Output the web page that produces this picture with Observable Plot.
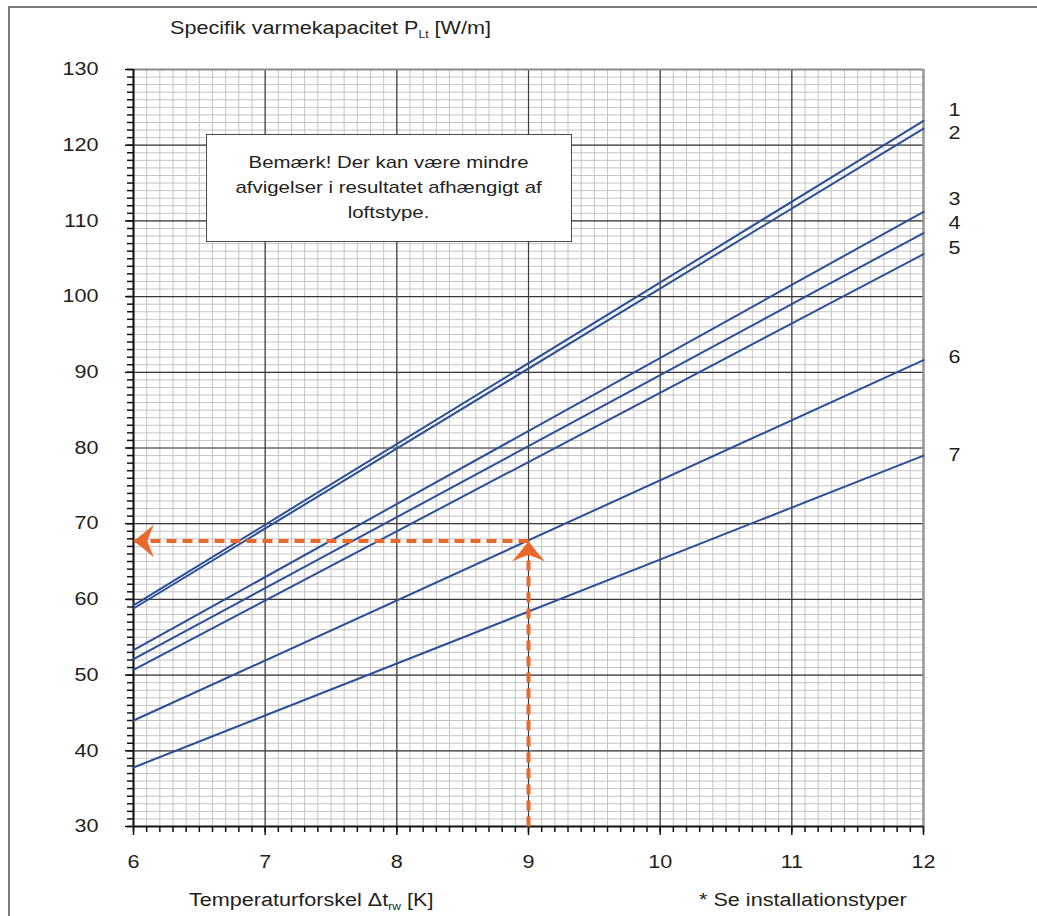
<!DOCTYPE html>
<html><head><meta charset="utf-8">
<script src="https://cdn.jsdelivr.net/npm/d3@7"></script>
<script src="https://cdn.jsdelivr.net/npm/@observablehq/plot@0.6"></script>
<style>
body{margin:0;background:#fff;font-family:"Liberation Sans",Arial,sans-serif;color:#231f20}
#wrap{position:relative;width:1037px;height:916px;overflow:hidden}
#wrap svg{position:absolute;left:0;top:0}
#frame{position:absolute;left:8px;top:6px;width:1100px;height:1000px;border-left:2px solid #7a7a7a;border-top:2px solid #7a7a7a}
.t{position:absolute;white-space:nowrap;font-size:18px;line-height:18px;transform:scaleX(1.2);transform-origin:0 0}
.t sub{font-size:10px;vertical-align:-4px;line-height:0}
#note{position:absolute;left:206px;top:134px;width:364px;height:106px;border:1px solid #4a4a4a;background:#fff;text-align:center}
#note div{padding-top:15px;font-size:17px;line-height:25px;display:inline-block;transform:scaleX(1.2);transform-origin:50% 0;white-space:nowrap}
</style></head>
<body>
<div id="wrap">
  <div id="frame"></div>
</div>
<script>
// ---- data ----
const seriesNames = ["1","2","3","4","5","6","7"];
const xEnds = [6, 12];
const valuesAt6  = [59.2, 58.8, 53.3, 52.1, 50.7, 44.0, 37.8];
const valuesAt12 = [123.2, 122.2, 111.2, 108.4, 105.6, 91.6, 79.0];
const xTickLabels = [6, 7, 8, 9, 10, 11, 12];
const yTickLabels = [30, 40, 50, 60, 70, 80, 90, 100, 110, 120, 130];
const readX = 9;      // example reading
const readY = 67.7;

// ---- derived tables ----
const lines = seriesNames.flatMap((s, i) => [
  {series: s, x: xEnds[0], y: valuesAt6[i]},
  {series: s, x: xEnds[1], y: valuesAt12[i]}
]);
const xMinor = d3.range(60, 121).map(d => d / 10);
const yMinor = d3.range(30, 131);
const labelDy = [-11, 5, -13, -10, -6, -3, 0];

// concave arrowhead, tip at the origin, pointing up
const arrowHead = {
  draw(ctx) {
    ctx.moveTo(0, 0);
    ctx.bezierCurveTo(-5, 7, -11, 14, -16.5, 20.5);
    ctx.quadraticCurveTo(-8, 16.5, 0, 14);
    ctx.quadraticCurveTo(8, 16.5, 16.5, 20.5);
    ctx.bezierCurveTo(11, 14, 5, 7, 0, 0);
    ctx.closePath();
  }
};

const blue = "#2c4f97";
const orange = "#e9692c";

const plot = Plot.plot({
  width: 1037, height: 916,
  marginLeft: 133, marginRight: 114, marginTop: 69, marginBottom: 90,
  x: {domain: [6, 12], label: null},
  y: {domain: [30, 130], label: null},
  style: {fontFamily: "'Liberation Sans', Arial, sans-serif", fontSize: "18px", color: "#231f20", background: "transparent", overflow: "visible"},
  marks: [
    Plot.ruleX(xMinor, {stroke: "#c4c4c4", strokeWidth: 1}),
    Plot.ruleY(yMinor, {stroke: "#c4c4c4", strokeWidth: 1}),
    Plot.ruleX(xTickLabels, {stroke: "#3a3a3a", strokeWidth: 1.2}),
    Plot.ruleY(yTickLabels, {stroke: "#3a3a3a", strokeWidth: 1.2}),
    Plot.ruleY([130], {stroke: "#8a8a8a", strokeWidth: 2}),
    Plot.ruleX([12], {stroke: "#999", strokeWidth: 2.5}),
    Plot.ruleX([6], {stroke: "#111", strokeWidth: 2}),
    Plot.ruleY([30], {stroke: "#111", strokeWidth: 2}),
    Plot.axisX(xMinor, {tickSize: 6, text: null, label: null, strokeWidth: 1.5, stroke: "#111"}),
    Plot.axisX(xTickLabels, {tickSize: 9, tickPadding: 20, tickFormat: d3.format("d"), label: null, strokeWidth: 1.5, stroke: "#111", fontSize: 18}),
    Plot.axisY(yMinor, {tickSize: 6, text: null, label: null, strokeWidth: 1.5, stroke: "#111"}),
    Plot.axisY(yTickLabels, {tickSize: 8, tickPadding: 27, tickFormat: d3.format("d"), label: null, strokeWidth: 1.5, stroke: "#111", fontSize: 18}),
    Plot.line(lines, {x: "x", y: "y", z: "series", stroke: blue, strokeWidth: 2}),
    Plot.link([{x1: readX, y1: 30, x2: readX, y2: readY}], {x1: "x1", y1: "y1", x2: "x2", y2: "y2", stroke: orange, strokeWidth: 4, strokeDasharray: "10,6"}),
    Plot.link([{x1: readX, y1: readY, x2: 6, y2: readY}], {x1: "x1", y1: "y1", x2: "x2", y2: "y2", stroke: orange, strokeWidth: 4, strokeDasharray: "10,6"}),
    Plot.dot([{x: readX, y: readY}], {x: "x", y: "y", symbol: arrowHead, fill: orange, stroke: null, rotate: 0}),
    Plot.dot([{x: 6, y: readY}], {x: "x", y: "y", symbol: arrowHead, fill: orange, stroke: null, rotate: -90}),
    ...seriesNames.map((s, i) => Plot.text([s], {x: () => 12, y: () => valuesAt12[i], text: d => d, dx: 31, dy: labelDy[i], fontSize: 18, fill: "#231f20"}))
  ]
});

const wrap = document.getElementById("wrap");
wrap.insertBefore(plot, wrap.firstChild);
plot.querySelectorAll("text").forEach(t => {
  const L = t.getComputedTextLength();
  if (L > 0) {
    t.setAttribute("textLength", (L * 1.2).toFixed(1));
    t.setAttribute("lengthAdjust", "spacingAndGlyphs");
  }
});

const add = (html, left, top) => {
  const d = document.createElement("div");
  d.className = "t";
  d.style.left = left + "px";
  d.style.top = top + "px";
  d.innerHTML = html;
  wrap.appendChild(d);
};
add("Specifik varmekapacitet P<sub>Lt</sub> [W/m]", 170, 19);
add("Temperaturforskel Δt<sub>rw</sub> [K]", 189, 891);
add("* Se installationstyper", 699, 891);

const note = document.createElement("div");
note.id = "note";
note.innerHTML = "<div>Bemærk! Der kan være mindre<br>afvigelser i resultatet afhængigt af<br>loftstype.</div>";
wrap.appendChild(note);
</script>
</body></html>
